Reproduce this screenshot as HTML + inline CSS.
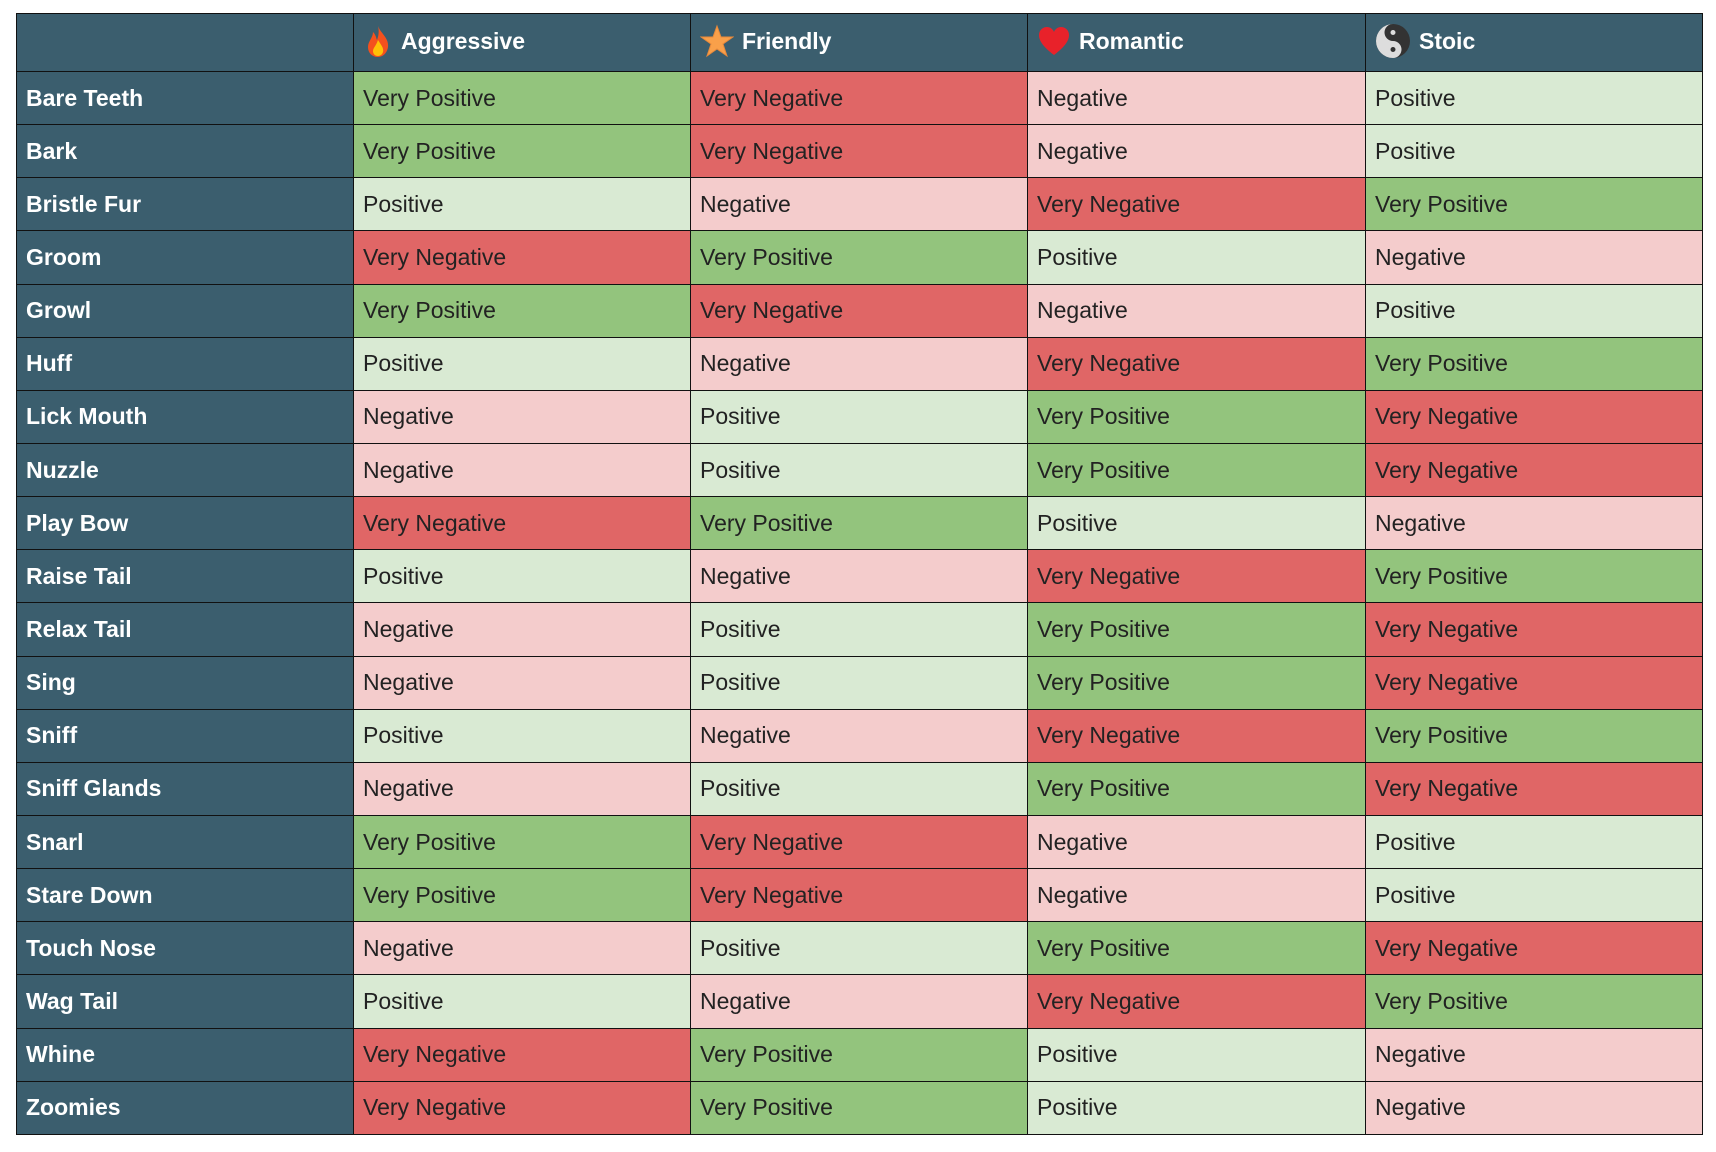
<!DOCTYPE html>
<html><head><meta charset="utf-8"><style>
html,body{margin:0;padding:0;background:#fff;width:1716px;height:1152px;overflow:hidden}
table{position:absolute;left:16px;top:13px;border-collapse:collapse;table-layout:fixed;width:1686px;font-family:"Liberation Sans",Arial,sans-serif;font-size:23px}
td,th{border:1.5px solid #111;padding:0 0 0 9px;text-align:left;white-space:nowrap;color:#222;box-sizing:border-box}
tr{height:53.15px}
tr.h{height:58px}
th{background:#3b5e6e;color:#fff;font-weight:bold}
td.l{background:#3b5e6e;color:#fff;font-weight:bold}
.vp{background:#93c47d}.p{background:#d9ead3}.vn{background:#e06666}.n{background:#f4cccc}
th svg{vertical-align:middle;margin-right:8px;position:relative;top:-2px}
</style></head><body>
<table>
<colgroup><col style="width:337px"><col style="width:337px"><col style="width:337px"><col style="width:338px"><col style="width:337px"></colgroup>
<tr class="h"><th></th>
<th><svg width="30" height="34" viewBox="0 0 30 34"><path d="M15 2C18 10 26 14 25 23C24 30 19 33 15 33C9 33 5 29 5 23C5 17 10 14 10 8C13 11 13 14 14 16C16 11 16 6 15 2Z" fill="#f4511e"/><path d="M15 16C18 21 21 24 20 28C19 31 17 32 15 32C12 32 10 30 10 27C10 24 13 22 15 16Z" fill="#ffc107"/></svg>Aggressive</th>
<th><svg width="34" height="34" viewBox="0 0 34 34"><polygon points="17,2 21,13 33,13 23,20 27,32 17,25 7,32 11,20 1,13 13,13" fill="#f9a04a" stroke="#e8893a"/></svg>Friendly</th>
<th><svg width="34" height="32" viewBox="0 0 34 32"><path d="M17 30C5 21 2 15 2 10C2 5 6 2 10 2C13 2 16 4 17 7C18 4 21 2 24 2C28 2 32 5 32 10C32 15 29 21 17 30Z" fill="#e8222a"/></svg>Romantic</th>
<th><svg width="36" height="36" viewBox="0 0 36 36"><circle cx="18" cy="18" r="17" fill="#333"/><path d="M18 1A17 17 0 0 0 18 35A8.5 8.5 0 0 0 18 18A8.5 8.5 0 0 1 18 1Z" fill="#ddd"/><circle cx="18" cy="9.5" r="2.5" fill="#ddd"/><circle cx="18" cy="26.5" r="2.5" fill="#333"/></svg>Stoic</th></tr>
<tr><td class="l">Bare Teeth</td><td class="vp">Very Positive</td><td class="vn">Very Negative</td><td class="n">Negative</td><td class="p">Positive</td></tr>
<tr><td class="l">Bark</td><td class="vp">Very Positive</td><td class="vn">Very Negative</td><td class="n">Negative</td><td class="p">Positive</td></tr>
<tr><td class="l">Bristle Fur</td><td class="p">Positive</td><td class="n">Negative</td><td class="vn">Very Negative</td><td class="vp">Very Positive</td></tr>
<tr><td class="l">Groom</td><td class="vn">Very Negative</td><td class="vp">Very Positive</td><td class="p">Positive</td><td class="n">Negative</td></tr>
<tr><td class="l">Growl</td><td class="vp">Very Positive</td><td class="vn">Very Negative</td><td class="n">Negative</td><td class="p">Positive</td></tr>
<tr><td class="l">Huff</td><td class="p">Positive</td><td class="n">Negative</td><td class="vn">Very Negative</td><td class="vp">Very Positive</td></tr>
<tr><td class="l">Lick Mouth</td><td class="n">Negative</td><td class="p">Positive</td><td class="vp">Very Positive</td><td class="vn">Very Negative</td></tr>
<tr><td class="l">Nuzzle</td><td class="n">Negative</td><td class="p">Positive</td><td class="vp">Very Positive</td><td class="vn">Very Negative</td></tr>
<tr><td class="l">Play Bow</td><td class="vn">Very Negative</td><td class="vp">Very Positive</td><td class="p">Positive</td><td class="n">Negative</td></tr>
<tr><td class="l">Raise Tail</td><td class="p">Positive</td><td class="n">Negative</td><td class="vn">Very Negative</td><td class="vp">Very Positive</td></tr>
<tr><td class="l">Relax Tail</td><td class="n">Negative</td><td class="p">Positive</td><td class="vp">Very Positive</td><td class="vn">Very Negative</td></tr>
<tr><td class="l">Sing</td><td class="n">Negative</td><td class="p">Positive</td><td class="vp">Very Positive</td><td class="vn">Very Negative</td></tr>
<tr><td class="l">Sniff</td><td class="p">Positive</td><td class="n">Negative</td><td class="vn">Very Negative</td><td class="vp">Very Positive</td></tr>
<tr><td class="l">Sniff Glands</td><td class="n">Negative</td><td class="p">Positive</td><td class="vp">Very Positive</td><td class="vn">Very Negative</td></tr>
<tr><td class="l">Snarl</td><td class="vp">Very Positive</td><td class="vn">Very Negative</td><td class="n">Negative</td><td class="p">Positive</td></tr>
<tr><td class="l">Stare Down</td><td class="vp">Very Positive</td><td class="vn">Very Negative</td><td class="n">Negative</td><td class="p">Positive</td></tr>
<tr><td class="l">Touch Nose</td><td class="n">Negative</td><td class="p">Positive</td><td class="vp">Very Positive</td><td class="vn">Very Negative</td></tr>
<tr><td class="l">Wag Tail</td><td class="p">Positive</td><td class="n">Negative</td><td class="vn">Very Negative</td><td class="vp">Very Positive</td></tr>
<tr><td class="l">Whine</td><td class="vn">Very Negative</td><td class="vp">Very Positive</td><td class="p">Positive</td><td class="n">Negative</td></tr>
<tr><td class="l">Zoomies</td><td class="vn">Very Negative</td><td class="vp">Very Positive</td><td class="p">Positive</td><td class="n">Negative</td></tr>
</table>
</body></html>
